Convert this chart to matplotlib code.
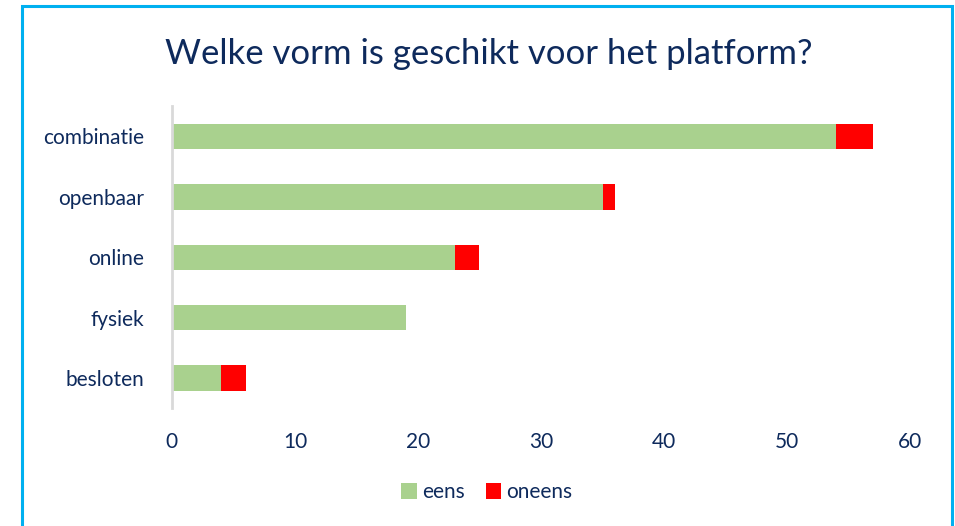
import matplotlib.pyplot as plt
from matplotlib.patches import Rectangle

categories = ['combinatie', 'openbaar', 'online', 'fysiek', 'besloten']
eens = [54, 35, 23, 19, 4]
oneens = [3, 1, 2, 0, 2]
x_ticks = [0, 10, 20, 30, 40, 50, 60]

navy = '#0e2a5c'
green = '#a9d18e'
red = '#ff0000'

plt.rcParams['font.family'] = ['Lato', 'DejaVu Sans']

fig = plt.figure(figsize=(9.55, 5.26), dpi=100)
ax = fig.add_axes([0.180, 0.224, 0.773, 0.574])

# categories top to bottom
pos = list(range(len(categories)))[::-1]
ax.barh(pos, eens, height=0.42, color=green, label='eens')
ax.barh(pos, oneens, left=eens, height=0.42, color=red, label='oneens')

ax.set_ylim(-0.5, len(categories) - 0.5)
ax.set_xlim(0, 60)
ax.set_xticks(x_ticks)
ax.set_yticks(pos)
ax.set_yticklabels(categories)

for s in ['top', 'right', 'bottom']:
    ax.spines[s].set_visible(False)
ax.spines['left'].set_color('#d9d9d9')
ax.spines['left'].set_linewidth(2)
ax.tick_params(axis='both', length=0, labelsize=15, colors=navy)
ax.tick_params(axis='y', pad=20)
ax.tick_params(axis='x', pad=17)

fig.text(0.512, 0.897, 'Welke vorm is geschikt voor het platform?',
         ha='center', va='center', fontsize=25, color=navy)

leg = fig.legend(loc='center', bbox_to_anchor=(0.51, 0.064), ncol=2, frameon=False,
                 fontsize=15, handlelength=0.75, handleheight=0.75,
                 handletextpad=0.25, columnspacing=1.0)
for t in leg.get_texts():
    t.set_color(navy)

# light blue chart frame
fig.patches.append(Rectangle((22 / 955, -0.01), (952 - 22) / 955, 1 - 6 / 526 + 0.01,
                             transform=fig.transFigure, fill=False,
                             edgecolor='#00b0f0', linewidth=2.2))

plt.savefig('out.png', dpi=100)
